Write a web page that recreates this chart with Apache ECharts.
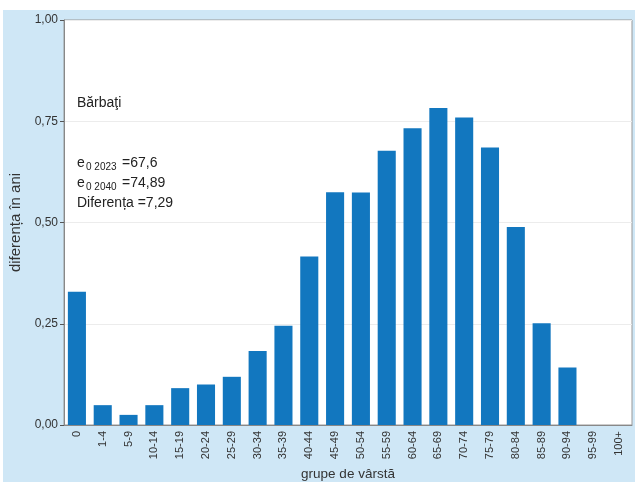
<!DOCTYPE html>
<html>
<head>
<meta charset="utf-8">
<script src="https://cdn.jsdelivr.net/npm/echarts@6/dist/echarts.min.js"></script>
<style>
  html, body { margin: 0; padding: 0; background: #fff; }
  #main { width: 635px; height: 482px; }
</style>
</head>
<body>
<div id="main"></div>
<script>
var groups = ['0', '1-4', '5-9', '10-14', '15-19', '20-24', '25-29', '30-34', '35-39', '40-44',
    '45-49', '50-54', '55-59', '60-64', '65-69', '70-74', '75-79', '80-84', '85-89', '90-94',
    '95-99', '100+'];
var diff = [0.329, 0.049, 0.025, 0.049, 0.091, 0.100, 0.119, 0.183, 0.245, 0.416,
    0.575, 0.574, 0.677, 0.733, 0.783, 0.759, 0.685, 0.489, 0.251, 0.142,
    0, 0];

var fontFam = '"Liberation Sans", Arial, sans-serif';
var myChart = echarts.init(document.getElementById('main'));

// text block in the upper left: e0 with subscripts drawn as separate pieces
function line(y, main, sub, rest) {
    return [
        { type: 'text', left: 77, top: y, style: { text: main, fontSize: 14, fontFamily: fontFam, fill: '#222' } },
        { type: 'text', left: 86, top: y + 6, style: { text: sub, fontSize: 10, fontFamily: fontFam, fill: '#222' } },
        { type: 'text', left: 122, top: y, style: { text: rest, fontSize: 14, fontFamily: fontFam, fill: '#222' } }
    ];
}

var graphics = [
    { type: 'rect', left: 3, top: 10, z: -10, shape: { width: 632, height: 472 }, style: { fill: '#cfe7f6' } },
    { type: 'text', left: 77, top: 96, style: { text: 'Bărbaţi', fontSize: 14, fontFamily: fontFam, fill: '#222' } }
];
graphics = graphics.concat(line(156, 'e', '0 2023', '=67,6'));
graphics = graphics.concat(line(176, 'e', '0 2040', '=74,89'));
graphics.push({ type: 'text', left: 77, top: 196, style: { text: 'Diferența =7,29', fontSize: 14, fontFamily: fontFam, fill: '#222' } });

var option = {
    animation: false,
    backgroundColor: '#fff',
    textStyle: { fontFamily: fontFam },
    graphic: graphics,
    grid: {
        show: true,
        left: 64,
        right: 3,
        top: 20,
        bottom: 57,
        outerBoundsMode: 'none',
        containLabel: false,
        backgroundColor: '#fff',
        borderColor: '#999',
        borderWidth: 1
    },
    xAxis: {
        type: 'category',
        data: groups,
        name: 'grupe de vârstă',
        nameLocation: 'middle',
        nameGap: 40,
        nameTextStyle: { fontSize: 13.5, color: '#333' },
        axisLine: { lineStyle: { color: '#888' } },
        axisTick: { alignWithLabel: true, length: 4, lineStyle: { color: '#555' } },
        axisLabel: { rotate: 90, fontSize: 11, color: '#333', margin: 6, interval: 0 }
    },
    yAxis: {
        type: 'value',
        min: 0,
        max: 1,
        interval: 0.25,
        name: 'diferența în ani',
        nameLocation: 'middle',
        nameGap: 40,
        nameTextStyle: { fontSize: 15, color: '#333' },
        axisLine: { show: true, lineStyle: { color: '#888' } },
        axisTick: { show: true, length: 4, lineStyle: { color: '#555' } },
        axisLabel: {
            fontSize: 12,
            color: '#333',
            margin: 6,
            formatter: function (v) { return v.toFixed(2).replace('.', ','); }
        },
        splitLine: { lineStyle: { color: '#ececec' } }
    },
    series: [{
        type: 'bar',
        data: diff,
        barCategoryGap: '30%',
        itemStyle: { color: '#1277bf' }
    }]
};

myChart.setOption(option);
</script>
</body>
</html>
